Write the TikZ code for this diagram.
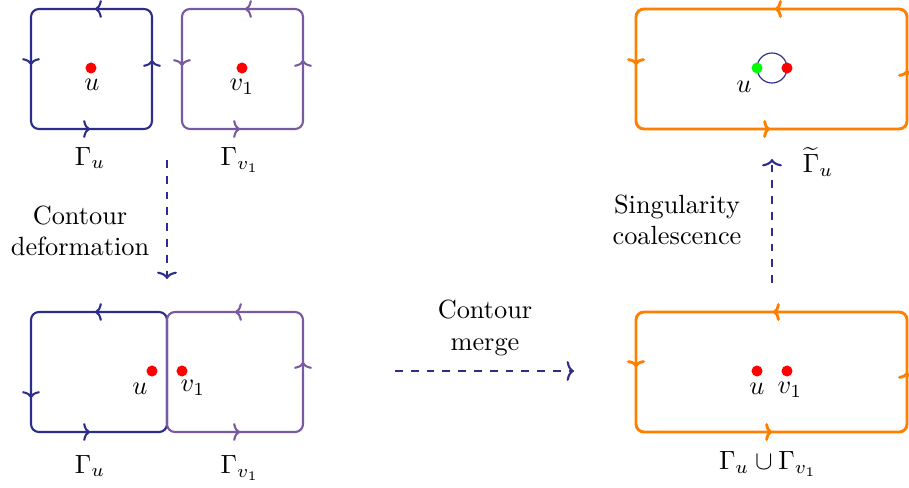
\documentclass[tikz,border=0pt]{standalone}
\usepackage{amsmath}
\usetikzlibrary{arrows.meta}
\definecolor{cblue}{RGB}{45,45,140}
\definecolor{cpurple}{RGB}{120,90,160}
\definecolor{corange}{RGB}{255,128,0}
\begin{document}
\begin{tikzpicture}[x=0.38pt,y=-0.38pt,
  bluebox/.style={draw=cblue,line width=0.8pt,rounded corners=3pt},
  purplebox/.style={draw=cpurple,line width=0.8pt,rounded corners=3pt},
  orangebox/.style={draw=corange,line width=1.1pt,rounded corners=3pt},
  btip/.style={draw=cblue,line width=0.8pt,-{To[width=6.8pt,length=2.6pt]}},
  ptip/.style={draw=cpurple,line width=0.8pt,-{To[width=6.8pt,length=2.6pt]}},
  otip/.style={draw=corange,line width=1.1pt,-{To[width=6.8pt,length=2.6pt]}},
  dot/.style={circle,fill=red,inner sep=0pt,minimum size=4.2pt},
  gdot/.style={circle,fill=green,inner sep=0pt,minimum size=4.2pt},
  flow/.style={draw=cblue,line width=0.8pt,dashed,-{To[width=7.5pt,length=2.8pt]}},
  lbl/.style={inner sep=0pt},
  txt/.style={align=center,inner sep=0pt}]
\useasboundingbox (0,0) rectangle (909,487);

% ---------- top left: separate contours ----------
\draw[bluebox] (31,9) rectangle (152,129);
\draw[btip] (101,9) -- (95,9);
\draw[btip] (31,59) -- (31,65);
\draw[btip] (152,66) -- (152,60);
\draw[btip] (84,129) -- (90,129);

\draw[purplebox] (182,9) rectangle (303,129);
\draw[ptip] (251,9) -- (245,9);
\draw[ptip] (182,60) -- (182,66);
\draw[ptip] (303,66) -- (303,60);
\draw[ptip] (234,129) -- (240,129);

\node[dot] (u1) at (91,68) {};
\node[dot] (v1a) at (242,68) {};
\node[lbl] (u1l) at (92,85) {$u$};
\node[lbl] (v1al) at (242,87) {$v_1$};
\node[lbl] (g1) at (90,158) {$\Gamma_u$};
\node[lbl] (g2) at (240,160) {$\Gamma_{v_1}$};

% ---------- bottom left: deformed contours ----------
\draw[bluebox] (31,312) rectangle (167,432);
\draw[btip] (101,312) -- (95,312);
\draw[btip] (31,392) -- (31,398);
\draw[btip] (84,432) -- (90,432);

\draw[purplebox] (167,312) rectangle (303,432);
\draw[ptip] (241,312) -- (235,312);
\draw[ptip] (303,368) -- (303,362);
\draw[ptip] (234,432) -- (240,432);

\node[dot] (u2) at (152,371) {};
\node[dot] (v2) at (182,371) {};
\node[lbl] (u2l) at (140,389) {$u$};
\node[lbl] (v2l) at (193,388) {$v_1$};
\node[lbl] (g3) at (90,466) {$\Gamma_u$};
\node[lbl] (g4) at (240,468) {$\Gamma_{v_1}$};

% ---------- bottom right: merged contour ----------
\draw[orangebox] (636,312) rectangle (907,432);
\draw[otip] (779,312) -- (773,312);
\draw[otip] (636,361) -- (636,367);
\draw[otip] (907,378) -- (907,372);
\draw[otip] (766,432) -- (772,432);

\node[dot] (u3) at (757,371) {};
\node[dot] (v3) at (787,371) {};
\node[lbl] (u3l) at (757,389) {$u$};
\node[lbl] (v3l) at (790,390) {$v_1$};
\node[lbl] (g5) at (768,464) {$\Gamma_u\cup\Gamma_{v_1}$};

% ---------- top right: coalesced singularity ----------
\draw[orangebox] (636,9) rectangle (907,129);
\draw[otip] (781,9) -- (775,9);
\draw[otip] (636,59) -- (636,65);
\draw[otip] (907,76) -- (907,70);
\draw[otip] (764,129) -- (770,129);

\draw[cblue,line width=0.45pt] (772,68) circle[radius=15];
\node[gdot] (u4) at (757,68) {};
\node[dot] (v4) at (787,68) {};
\node[lbl] (u4l) at (744,87) {$u$};
\node[lbl] (g6) at (818,162) {$\widetilde{\Gamma}_u$};

% ---------- process arrows ----------
\coordinate (a1s) at (167,160);
\coordinate (a1e) at (167,279);
\draw[flow] (a1s) -- (a1e);
\node[txt] (t1) at (80,231) {Contour\\deformation};

\coordinate (a2s) at (395,371);
\coordinate (a2e) at (574,371);
\draw[flow] (a2s) -- (a2e);
\node[txt] (t2) at (485,328) {Contour\\merge};

\coordinate (a3s) at (772,283);
\coordinate (a3e) at (772,159);
\draw[flow] (a3s) -- (a3e);
\node[txt] (t3) at (677,220) {Singularity\\coalescence};
\end{tikzpicture}
\end{document}
